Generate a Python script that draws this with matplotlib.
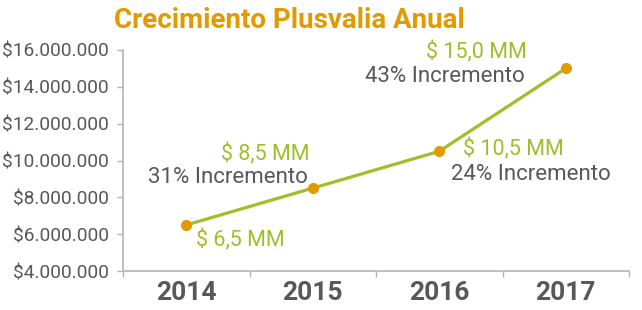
import matplotlib
matplotlib.use("Agg")
import matplotlib.pyplot as plt
from matplotlib.ticker import FixedLocator, FuncFormatter

years = ["2014", "2015", "2016", "2017"]
values = [6.5e6, 8.5e6, 10.5e6, 15.0e6]
money_labels = ["$ 6,5 MM", "$ 8,5 MM", "$ 10,5 MM", "$ 15,0 MM"]
incr_labels = [None, "31% Incremento", "24% Incremento", "43% Incremento"]
yticks = [4e6, 6e6, 8e6, 10e6, 12e6, 14e6, 16e6]

GREEN = "#9FBE2C"
ORANGE = "#E29A00"
GRAY = "#58585A"
SPINE = "#B4B4B8"

plt.rcParams['font.family'] = ['Roboto', 'DejaVu Sans']

fig = plt.figure(figsize=(6.42, 3.10), dpi=100)
ax = fig.add_axes([123/642, 39/310, (629-123)/642, (271-50)/310])

x = list(range(len(years)))
ax.plot(x, values, color=GREEN, lw=2.3, zorder=2)
ax.plot(x, values, 'o', color=ORANGE, ms=7, zorder=3)

ax.set_xlim(-0.5, len(years) - 0.5)
ax.set_ylim(4e6, 16e6)

for s in ["top", "right"]:
    ax.spines[s].set_visible(False)
for s in ["left", "bottom"]:
    ax.spines[s].set_color(SPINE)
    ax.spines[s].set_linewidth(1.2)

ax.set_yticks(yticks)
ax.yaxis.set_major_formatter(FuncFormatter(lambda v, p: "$" + f"{int(v):,}".replace(",", ".")))
ax.tick_params(axis='y', colors=SPINE, length=4, width=1, labelcolor=GRAY, labelsize=13.8, pad=6)

ax.set_xticks(x)
ax.set_xticklabels(years, fontweight='bold')
ax.xaxis.set_minor_locator(FixedLocator([i - 0.5 for i in range(len(years) + 1)]))
ax.tick_params(axis='x', which='major', length=0, labelcolor=GRAY, labelsize=19, pad=7)
ax.tick_params(axis='x', which='minor', length=4, width=1, color=SPINE)

money_off = [(10, -15, 'left'), (-3, 34, 'right'), (24, 2, 'left'), (-39, 16, 'right')]
incr_off = [None, (-5, 11, 'right'), (12, -23, 'left'), (-41, -8, 'right')]

for i in range(len(years)):
    dx, dy, ha = money_off[i]
    ax.annotate(money_labels[i], (x[i], values[i]), xytext=(dx, dy), textcoords='offset pixels',
                ha=ha, va='center', color=GREEN, fontsize=15.5)
    if incr_labels[i]:
        dx, dy, ha = incr_off[i]
        ax.annotate(incr_labels[i], (x[i], values[i]), xytext=(dx, dy), textcoords='offset pixels',
                    ha=ha, va='center', color=GRAY, fontsize=16)

fig.text(289/642, 1 - 20/310, "Crecimiento Plusvalia Anual", ha='center', va='center',
         color=ORANGE, fontsize=20, fontweight='bold')

fig.savefig("out.png", dpi=100)
